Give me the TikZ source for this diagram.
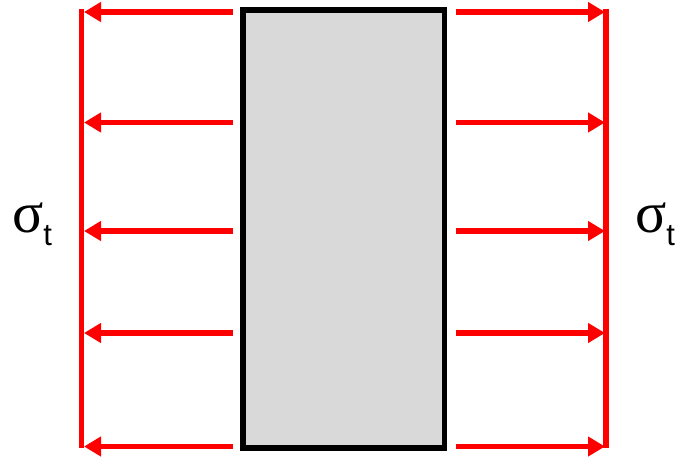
\documentclass[tikz,border=0pt]{standalone}
\usepackage{fontspec}
\newfontfamily\sigfont{Liberation Serif}
\newfontfamily\tfont{Liberation Sans}
\usetikzlibrary{arrows.meta}
\definecolor{boxgray}{HTML}{D9D9D9}
\begin{document}
\begin{tikzpicture}[x=1pt,y=-1pt,
  redline/.style={red,line width=5.7pt},
  redarrow/.style={red,line width=5.7pt,-{Triangle[length=17pt,width=19pt]}},
  lbl/.style={anchor=base west,inner sep=0pt}]
\useasboundingbox (0,0) rectangle (679,458);
\draw[line width=5.5pt,fill=boxgray] (243,10) rectangle (444.7,448);
% vertical lines
\coordinate (lt) at (81.5,9);
\coordinate (lb) at (81.5,448);
\coordinate (rt) at (606,9);
\coordinate (rb) at (606,448);
\draw[redline] (lt) -- (lb);
\draw[redline] (rt) -- (rb);
\foreach \i/\y in {1/12,2/122.5,3/231,4/333,5/446.5}{
  \coordinate (ls\i) at (232.7,\y);
  \coordinate (le\i) at (84,\y);
  \coordinate (rs\i) at (456,\y);
  \coordinate (re\i) at (605,\y);
  \draw[redarrow] (ls\i) -- (le\i);
  \draw[redarrow] (rs\i) -- (re\i);
}
\node[lbl] (sl) at (12,232) {\fontsize{58}{58}\sigfont σ\raisebox{-13pt}{\fontsize{31}{31}\tfont t}};
\node[lbl] (sr) at (635,232) {\fontsize{58}{58}\sigfont σ\raisebox{-13pt}{\fontsize{31}{31}\tfont t}};
\end{tikzpicture}
\end{document}
